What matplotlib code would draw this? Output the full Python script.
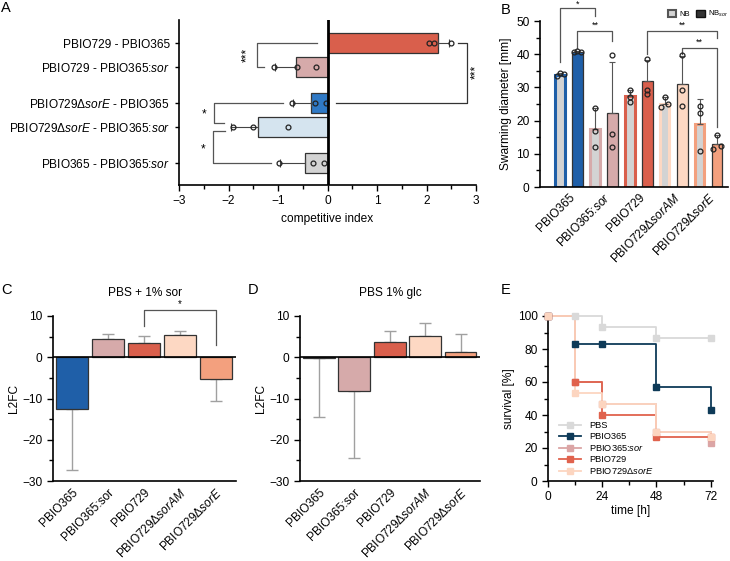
import matplotlib
matplotlib.use('Agg')
import matplotlib.pyplot as plt
import numpy as np
from matplotlib.patches import Patch
from matplotlib.ticker import MultipleLocator, FixedLocator

plt.rcParams['font.family'] = ['Liberation Sans', 'DejaVu Sans']
plt.rcParams['mathtext.fontset'] = 'custom'
plt.rcParams['mathtext.rm'] = 'Liberation Sans'
plt.rcParams['mathtext.it'] = 'Liberation Sans:italic'
plt.rcParams['mathtext.bf'] = 'Liberation Sans:bold'
plt.rcParams['axes.linewidth'] = 1.2
plt.rcParams['xtick.major.width'] = 1.0
plt.rcParams['ytick.major.width'] = 1.0
plt.rcParams['xtick.minor.width'] = 1.0
plt.rcParams['ytick.minor.width'] = 1.0

# ---------------- DATA ----------------
# Panel A
a_labels = ['PBIO729 - PBIO365',
            r'PBIO729 - PBIO365:$\mathit{sor}$',
            r'PBIO729Δ$\mathit{sorE}$ - PBIO365',
            r'PBIO729Δ$\mathit{sorE}$ - PBIO365:$\mathit{sor}$',
            r'PBIO365 - PBIO365:$\mathit{sor}$']
a_means = [2.24, -0.64, -0.33, -1.40, -0.45]
a_err = [0.22, 0.42, 0.36, 0.55, 0.51]
a_points = [[2.06, 2.16, 2.49],
            [-1.08, -0.61, -0.24],
            [-0.71, -0.26, -0.03],
            [-1.91, -1.50, -0.79],
            [-0.98, -0.30, -0.07]]

# Panel B
b_strains = ['PBIO365', r'PBIO365:$\mathit{sor}$', 'PBIO729',
             r'PBIO729Δ$\mathit{sorAM}$', r'PBIO729Δ$\mathit{sorE}$']
b_nb_mean = [33.8, 17.5, 27.3, 25.0, 19.0]
b_nb_sd = [0.4, 6.3, 2.0, 2.0, 7.4]
b_nbsor_mean = [40.7, 22.4, 32.0, 31.1, 13.1]
b_nbsor_sd = [0.2, 15.3, 6.2, 8.5, 2.7]
b_nb_pts = [[33.5, 34.3, 33.9], [23.8, 16.9, 11.9], [29.3, 27.2, 25.5],
            [24.2, 27.1, 25.1], [24.5, 22.2, 10.9]]
b_nbsor_pts = [[40.6, 41.0, 40.8], [39.9, 16.0, 11.9], [38.5, 29.3, 27.9],
               [39.9, 29.1, 24.5], [11.4, 15.8, 12.2]]

# Panels C, D
cd_labels = ['PBIO365', 'PBIO365:sor', 'PBIO729',
             r'PBIO729Δ$\mathit{sorAM}$', r'PBIO729Δ$\mathit{sorE}$']
c_means = [-12.6, 4.5, 3.5, 5.4, -5.2]
c_err = [14.8, 1.15, 1.75, 0.9, 5.45]
d_means = [-0.3, -8.2, 3.65, 5.25, 1.2]
d_err = [14.15, 16.3, 2.75, 3.05, 4.5]

# Panel E
e_time = [0, 12, 24, 48, 72]
e_names = ['PBS', 'PBIO365', r'PBIO365:$\mathit{sor}$', 'PBIO729', r'PBIO729Δ$\mathit{sorE}$']
e_pbs = [100, 100, 93.3, 86.7, 86.7]
e_365 = [100, 83.3, 83.3, 56.7, 43.3]
e_365sor = [100, 60, 46.7, 30, 23.3]
e_729 = [100, 60, 40, 26.7, 26.7]
e_729sorE = [100, 53.3, 46.7, 30, 26.7]

# ---------------- STYLE ----------------
strain_cols = ['#1f5fa8', '#d6aaaa', '#d95f4c', '#fdd8c3', '#f3a07e']
a_cols = ['#d95f4c', '#d6aaaa', '#2f79c5', '#d5e4ef', '#d3d3d3']
e_cols = ['#d9d9d9', '#0e3a58', '#dba5a5', '#e0624d', '#fcd5c0']
W, H = 730, 561
FS = 8.6

fig = plt.figure(figsize=(W / 100, H / 100), dpi=100)


def ax_px(l, t, r, b):
    return fig.add_axes([l / W, (H - b) / H, (r - l) / W, (b - t) / H])


def letter(x, y, s):
    fig.text(x / W, 1 - y / H, s, fontsize=10.5, va='top', ha='left')

# ---------------- PANEL A ----------------
axA = ax_px(179, 20, 476, 185)
rows = [0, 1, 2.5, 3.5, 5]
for i, (m, e, pts) in enumerate(zip(a_means, a_err, a_points)):
    y = rows[i]
    axA.barh(y, m, height=0.85, color=a_cols[i], edgecolor='#333333', linewidth=0.9, zorder=2)
    xe = [[0], [e]] if m > 0 else [[e], [0]]
    axA.errorbar(m, y, xerr=xe, fmt='none', ecolor='#444444', elinewidth=0.8,
                 capsize=3, capthick=0.8, zorder=3)
    axA.plot(pts, [y] * 3, 'o', ms=3.5, mfc='none', mec='#222222', mew=0.9, zorder=4)
axA.axvline(0, color='black', lw=2, zorder=5)
axA.set_xlim(-3, 3)
axA.set_ylim(5.92, -0.96)
axA.set_yticks(rows)
axA.set_yticklabels(a_labels, fontsize=FS)
axA.xaxis.set_major_locator(MultipleLocator(1))
axA.xaxis.set_minor_locator(MultipleLocator(0.5))
axA.tick_params(axis='x', labelsize=FS, length=4, which='major')
axA.tick_params(axis='x', length=3, which='minor')
axA.tick_params(axis='y', length=3)
axA.set_xlabel('competitive index', fontsize=FS, labelpad=4)
for s in ['top', 'right']:
    axA.spines[s].set_visible(False)

def hbr(ax, x, y1, y2, e1, e2, col='#555555'):
    ax.plot([e1, x, x, e2], [y1, y1, y2, y2], color=col, lw=0.9, clip_on=False, zorder=1)

hbr(axA, -1.43, 0, 1, -0.21, -1.28)
axA.text(-1.63, 0.5, '***', rotation=90, ha='center', va='center', fontsize=FS)
hbr(axA, -2.30, 2.5, 3.35, -0.90, -2.09)
axA.text(-2.5, 2.98, '*', ha='center', va='center', fontsize=FS)
hbr(axA, -2.31, 3.65, 5, -2.07, -1.15)
axA.text(-2.52, 4.42, '*', ha='center', va='center', fontsize=FS)
hbr(axA, 2.82, 0, 2.5, 2.63, 0.18, col='#333333')
axA.text(3.0, 1.22, '***', rotation=90, ha='center', va='center', fontsize=FS)

# ---------------- PANEL B ----------------
axB = ax_px(540, 21, 728, 187)
bw = 0.62
jit_nb = [[-0.2, 0, 0.2], [0, 0, 0], [0, 0, 0], [-0.2, 0, 0.2], [0, 0, 0]]
jit_sor = [[-0.2, 0, 0.2], [0, 0, 0], [0, 0, 0], [0, 0, 0], [-0.25, 0, 0.25]]
for i in range(5):
    x1, x2 = 2 * i, 2 * i + 1
    axB.bar(x1, b_nb_mean[i], width=bw - 0.08, color='#d3d3d3', edgecolor=strain_cols[i],
            linewidth=2.2, zorder=2)
    axB.bar(x2, b_nbsor_mean[i], width=bw, color=strain_cols[i], edgecolor='#333333',
            linewidth=0.9, zorder=2)
    axB.errorbar(x1, b_nb_mean[i], yerr=[[0], [b_nb_sd[i]]], fmt='none', ecolor='#555555',
                 elinewidth=0.8, capsize=2.5, capthick=0.8, zorder=3)
    axB.errorbar(x2, b_nbsor_mean[i], yerr=[[0], [b_nbsor_sd[i]]], fmt='none', ecolor='#555555',
                 elinewidth=0.8, capsize=2.5, capthick=0.8, zorder=3)
    axB.plot(np.array(jit_nb[i]) + x1, b_nb_pts[i], 'o', ms=3.5, mfc='none', mec='#222222', mew=0.9, zorder=4)
    axB.plot(np.array(jit_sor[i]) + x2, b_nbsor_pts[i], 'o', ms=3.5, mfc='none', mec='#222222', mew=0.9, zorder=4)
axB.set_xlim(-1.15, 9.63)
axB.set_ylim(0, 50)
axB.yaxis.set_major_locator(MultipleLocator(10))
axB.yaxis.set_minor_locator(MultipleLocator(5))
axB.tick_params(axis='y', labelsize=FS, length=4, which='major')
axB.tick_params(axis='y', length=3, which='minor')
axB.set_xticks([0.5, 2.5, 4.5, 6.5, 8.5])
axB.set_xticklabels(b_strains, rotation=45, ha='right', rotation_mode='anchor', fontsize=FS)
axB.tick_params(axis='x', length=0, pad=3)
axB.set_ylabel('Swarming diameter [mm]', fontsize=FS, labelpad=3)
for s in ['top', 'right']:
    axB.spines[s].set_visible(False)

def vbr(ax, xa, xb, top, ya, yb, col='#555555'):
    ax.plot([xa, xa, xb, xb], [ya, top, top, yb], color=col, lw=0.9, clip_on=False, zorder=1)

vbr(axB, 0, 2, 54.0, 37.5, 51.5)
axB.text(1, 55.2, '*', ha='center', va='center', fontsize=6.5)
vbr(axB, 1, 3, 47, 42, 44)
axB.text(2, 47.3, '**', ha='center', va='bottom', fontsize=6.5)
vbr(axB, 5, 9, 47, 40, 45)
axB.text(7, 47.3, '**', ha='center', va='bottom', fontsize=6.5)
vbr(axB, 7, 9, 42, 40, 18)
axB.text(8, 42.3, '**', ha='center', va='bottom', fontsize=6.5)
leg = axB.legend(handles=[Patch(facecolor='#d3d3d3', edgecolor='#555555', linewidth=1.5),
                          Patch(facecolor='#333333', edgecolor='#111111', linewidth=1.0)],
                 labels=['NB', r'NB$_{\mathit{sor}}$'], loc='lower right',
                 bbox_to_anchor=(1.0, 1.01), ncol=2, fontsize=5.5, frameon=False,
                 handlelength=1.1, handleheight=1.1, columnspacing=0.8,
                 handletextpad=0.4, borderpad=0, borderaxespad=0)

# ---------------- PANELS C, D ----------------
def cd_panel(l, r, means, errs, title):
    ax = ax_px(l, 316, r, 481)
    x = np.arange(5)
    ax.bar(x, means, width=0.9, color=strain_cols, edgecolor='#333333', linewidth=0.9, zorder=2)
    lo = [e if m < 0 else 0 for m, e in zip(means, errs)]
    hi = [e if m >= 0 else 0 for m, e in zip(means, errs)]
    ax.errorbar(x, means, yerr=[lo, hi], fmt='none', ecolor='#a0a0a0', elinewidth=1.0,
                capsize=4, capthick=1.0, zorder=1)
    ax.axhline(0, color='black', lw=1.2, zorder=3)
    ax.set_xlim(-0.53, 4.55)
    ax.set_ylim(-30, 10)
    ax.yaxis.set_major_locator(MultipleLocator(10))
    ax.yaxis.set_minor_locator(MultipleLocator(5))
    ax.tick_params(axis='y', labelsize=FS, length=4, which='major')
    ax.tick_params(axis='y', length=3, which='minor')
    ax.set_xticks(x)
    ax.set_xticklabels(cd_labels, rotation=45, ha='right', rotation_mode='anchor', fontsize=FS)
    ax.tick_params(axis='x', length=0, pad=4)
    ax.set_ylabel('L2FC', fontsize=FS, labelpad=2)
    for s in ['top', 'right']:
        ax.spines[s].set_visible(False)
    ax.text(0.5, 1.14, title, transform=ax.transAxes, ha='center', va='center', fontsize=FS)
    return ax

axC = cd_panel(53, 236, c_means, c_err, 'PBS + 1% sor')
vbr(axC, 2, 4, 11.4, 7.6, 2.9)
axC.text(3, 11.6, '*', ha='center', va='bottom', fontsize=7)
axD = cd_panel(300, 480, d_means, d_err, 'PBS 1% glc')

# ---------------- PANEL E ----------------
axE = ax_px(548, 316, 713, 481)
e_series = [e_pbs, e_365, e_365sor, e_729, e_729sorE]
for name, vals, col in zip(e_names, e_series, e_cols):
    axE.plot(e_time, vals, drawstyle='steps-post', color=col, lw=1.3, label=name, clip_on=False)
    axE.plot(e_time, vals, 's', color=col, ms=4, clip_on=False, zorder=3)
handles = [plt.Line2D([], [], color=c, lw=1.3, marker='s', ms=4) for c in e_cols]
axE.legend(handles, e_names, loc='lower left', bbox_to_anchor=(0.03, -0.01), fontsize=6.7,
           frameon=False, handlelength=2.3, labelspacing=0.22, handletextpad=0.9, borderpad=0.2)
axE.set_xlim(0, 73)
axE.set_ylim(0, 100)
axE.xaxis.set_major_locator(FixedLocator([0, 24, 48, 72]))
axE.xaxis.set_minor_locator(FixedLocator([12, 36, 60]))
axE.yaxis.set_major_locator(MultipleLocator(20))
axE.yaxis.set_minor_locator(MultipleLocator(10))
axE.tick_params(labelsize=FS, length=4, which='major')
axE.tick_params(length=3, which='minor')
axE.set_xlabel('time [h]', fontsize=FS, labelpad=1)
axE.set_ylabel('survival [%]', fontsize=FS, labelpad=2)
for s in ['top', 'right']:
    axE.spines[s].set_visible(False)

letter(1, 1, 'A')
letter(501, 3, 'B')
letter(1, 283, 'C')
letter(248, 283, 'D')
letter(501, 283, 'E')

fig.savefig('out.png', dpi=100)
